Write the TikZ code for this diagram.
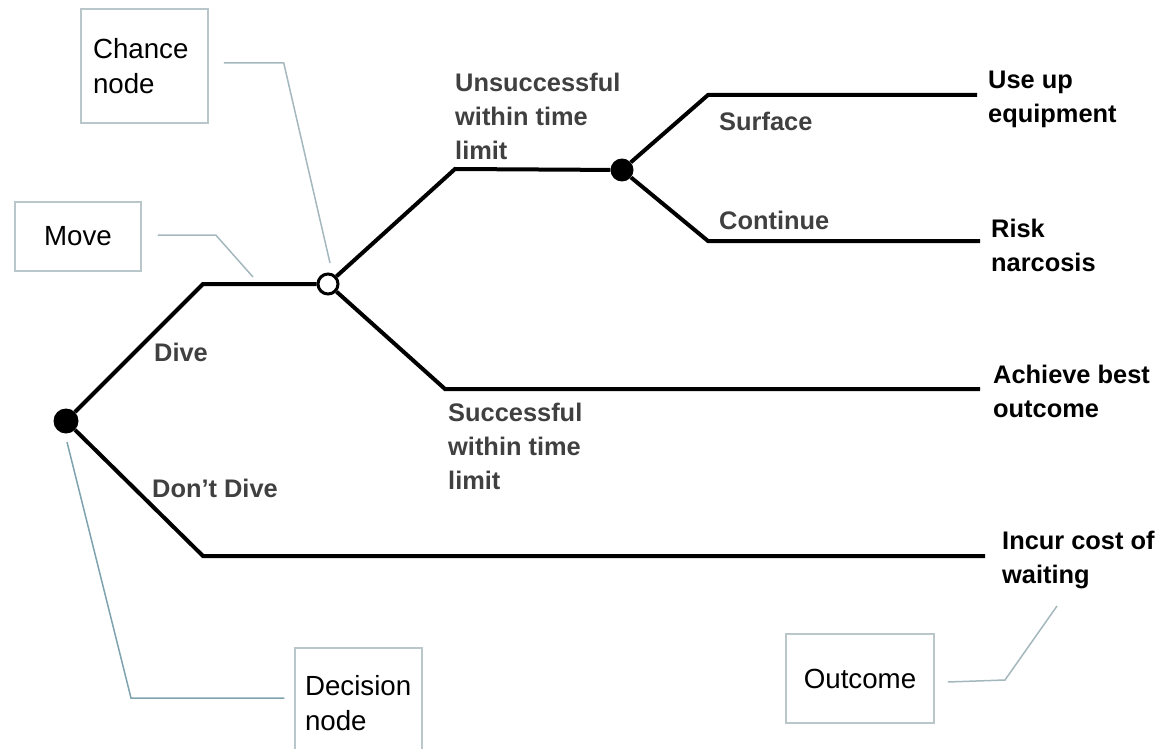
\documentclass[tikz,border=0pt]{standalone}
\usepackage{fontspec}
\setmainfont{Liberation Sans}
\definecolor{lblgray}{HTML}{404040}
\definecolor{calloutline}{HTML}{A3B7BD}
\definecolor{calloutbox}{HTML}{B9C6CA}
\definecolor{decisionline}{HTML}{7FA3AE}
\tikzstyle{branch}=[line width=4pt]
\tikzstyle{decision}=[circle, fill=black, inner sep=0pt, minimum size=25pt]
\tikzstyle{chance}=[circle, draw=black, line width=3pt, fill=white, inner sep=0pt, minimum size=20pt]
\tikzstyle{choice}=[anchor=west, inner sep=0pt, align=left, text=lblgray, font=\fontsize{25.4}{34}\selectfont\bfseries]
\tikzstyle{result}=[choice, text=black]
\tikzstyle{callout}=[draw=calloutbox, line width=1.5pt, font=\fontsize{27.7}{35}\selectfont]
\tikzstyle{leader}=[draw=calloutline, line width=1.5pt]

\begin{document}
\begin{tikzpicture}[x=1pt, y=-1pt]
\useasboundingbox (0,0) rectangle (1165,749);

\node [decision] (dec) at (66,421) {};
\node [chance] (ch1) at (328,284) {};
\node [decision, minimum size=23pt] (ch2) at (622,170) {};

\coordinate (dive) at (203,284);
\coordinate (nodive) at (203,556);
\coordinate (nodiveend) at (985,556);
\coordinate (unsucc) at (455,169);
\coordinate (succ) at (445,389);
\coordinate (succend) at (980,389);
\coordinate (surf) at (708,95);
\coordinate (surfend) at (977,95);
\coordinate (cont) at (708,241);
\coordinate (contend) at (980,241);

\draw [branch] (dec) -- (dive) -- (ch1);
\draw [branch] (dec) -- (nodive) -- (nodiveend);
\draw [branch] (ch1) -- (unsucc) -- (ch2);
\draw [branch] (ch1) -- (succ) -- (succend);
\draw [branch] (ch2) -- (surf) -- (surfend);
\draw [branch] (ch2) -- (cont) -- (contend);

\node [choice] (divelbl) at (154,352) {Dive};
\node [choice] (nodivelbl) at (152,488) {Don’t Dive};
\node [choice] (unsucclbl) at (455,116) {Unsuccessful\\within time\\limit};
\node [choice] (succlbl) at (448,446) {Successful\\within time\\limit};
\node [choice] (surflbl) at (719,121) {Surface};
\node [choice] (contlbl) at (719,220) {Continue};
\node [result] (equiplbl) at (988,99) {Use up\\equipment};
\node [result] (narclbl) at (991,245) {Risk\\narcosis};
\node [result] (bestlbl) at (993,391) {Achieve best\\outcome};
\node [result] (waitlbl) at (1002,560) {Incur cost of\\waiting};

\node [callout, text width=103pt, align=left, inner xsep=12pt, minimum height=114pt] (chancebox) at (144.5,66) {Chance\\node};
\node [callout, minimum width=126pt, minimum height=69pt] (movebox) at (78,236.5) {Move};
\node [callout, text width=107pt, align=left, inner xsep=10pt, minimum height=110pt] (decbox) at (358.5,703) {Decision\\node};
\node [callout, minimum width=148pt, minimum height=89pt] (outbox) at (860,678.5) {Outcome};

\coordinate (chancetip) at (330,263);
\coordinate (movetip) at (253,277);
\coordinate (dectip) at (67,442);
\coordinate (outtip) at (1057,606);

\draw [leader] ([xshift=15pt, yshift=3pt]chancebox.east) -- ++(60,0) -- (chancetip);
\draw [leader] ([xshift=16pt, yshift=1.5pt]movebox.east) -- ++(58,0) -- (movetip);
\draw [leader, draw=decisionline] (dectip) -- (131,698) -- ([xshift=-10pt, yshift=5pt]decbox.west);
\draw [leader] ([xshift=13pt, yshift=-3.5pt]outbox.east) -- (1005,680) -- (outtip);

\end{tikzpicture}
\end{document}
